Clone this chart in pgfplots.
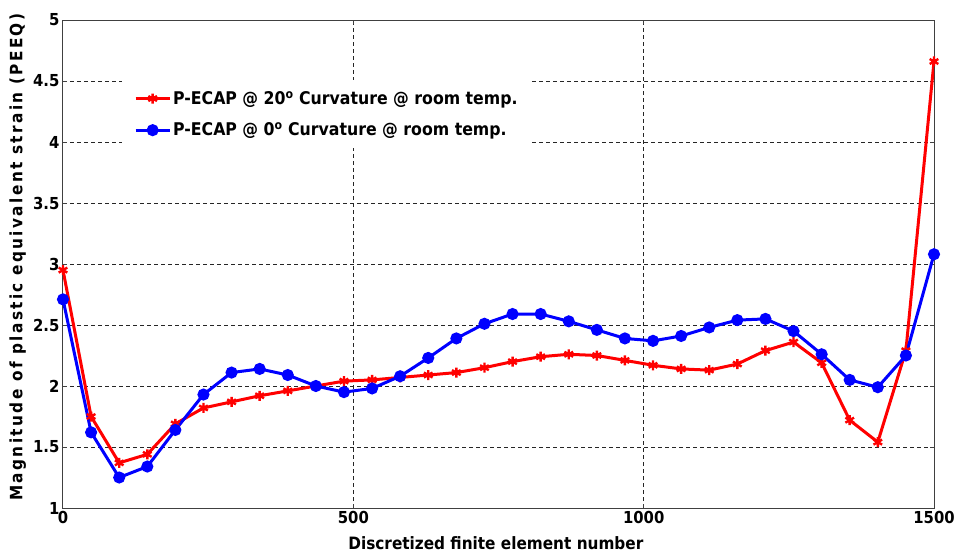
\documentclass[border=0pt]{standalone}
\usepackage{fontspec}
\setmainfont{DejaVu Sans Condensed}[BoldFont={DejaVu Sans Condensed Bold}]
\usepackage{pgfplots}
\pgfplotsset{compat=1.18}
\pgfplotstableread{
x y
0 2.95
48.4 1.75
96.8 1.37
145.2 1.44
193.5 1.69
241.9 1.82
290.3 1.87
338.7 1.92
387.1 1.96
435.5 2.00
483.9 2.04
532.3 2.05
580.6 2.07
629.0 2.09
677.4 2.11
725.8 2.15
774.2 2.20
822.6 2.24
871.0 2.26
919.4 2.25
967.7 2.21
1016.1 2.17
1064.5 2.14
1112.9 2.13
1161.3 2.18
1209.7 2.29
1258.1 2.36
1306.5 2.19
1354.8 1.72
1403.2 1.54
1451.6 2.29
1500 4.66
}\redtab
\pgfplotstableread{
x y
0 2.71
48.4 1.62
96.8 1.25
145.2 1.34
193.5 1.64
241.9 1.93
290.3 2.11
338.7 2.14
387.1 2.09
435.5 2.00
483.9 1.95
532.3 1.98
580.6 2.08
629.0 2.23
677.4 2.39
725.8 2.51
774.2 2.59
822.6 2.59
871.0 2.53
919.4 2.46
967.7 2.39
1016.1 2.37
1064.5 2.41
1112.9 2.48
1161.3 2.54
1209.7 2.55
1258.1 2.45
1306.5 2.26
1354.8 2.05
1403.2 1.99
1451.6 2.25
1500 3.08
}\bluetab
\begin{document}
\begin{tikzpicture}
\begin{axis}[
  at={(0pt,0pt)}, anchor=south west,
  scale only axis, width=871pt, height=488pt,
  xmin=0, xmax=1500, ymin=1, ymax=5,
  xtick={0,500,1000,1500},
  ytick={1,1.5,2,2.5,3,3.5,4,4.5,5},
  yticklabels={1,1.5,2,2.5,3,3.5,4,4.5,5},
  xticklabels={0,500,1000,1500},
  tick align=inside, major tick length=4pt,
  axis line style={black!75, line width=1pt},
  every tick/.style={black!75, line width=1pt},
  grid=major,
  major grid style={black!85, line width=1pt, dash pattern=on 4pt off 3pt},
  tick label style={font=\fontsize{16.5}{18}\selectfont\bfseries},
  label style={font=\fontsize{17}{19}\selectfont\bfseries},
  xlabel={Discretized finite element number},
  ylabel={Magnitude of plastic equivalent strain (PEEQ)},
  xlabel style={at={(axis description cs:0.497,-0.072)}, anchor=center},
  ylabel style={at={(axis description cs:-0.052,0.514)}, anchor=center,
    font=\fontsize{17}{19}\selectfont\bfseries\addfontfeature{LetterSpace=14}},
  legend style={at={(axis description cs:0.0677,0.877)}, anchor=north west,
    draw=none, fill=white, inner xsep=12pt, inner ysep=9pt,
    font=\fontsize{17.5}{19}\selectfont\bfseries, row sep=13pt},
  legend cell align=left,
  legend image code/.code={%
    \draw[#1, mark=none] (0pt,0pt) -- (34pt,0pt);
    \draw[#1, only marks] plot coordinates {(17pt,0pt)};},
]
\addplot[red, line width=3pt, mark=asterisk, mark size=5pt,
  mark options={line width=2.4pt, solid}] table[x=x,y=y] {\redtab};
\addlegendentry{P-ECAP @ 20$^{\mathbf{o}}$ Curvature @ room temp.\hspace{14pt}}
\addplot[blue, line width=3pt, mark=*, mark size=4.5pt,
  mark options={solid, fill=blue}] table[x=x,y=y] {\bluetab};
\addlegendentry{P-ECAP @ 0$^{\mathbf{o}}$ Curvature @ room temp.}
\end{axis}
\useasboundingbox (-63pt,-47pt) rectangle (897pt,508pt);
\end{tikzpicture}
\end{document}
